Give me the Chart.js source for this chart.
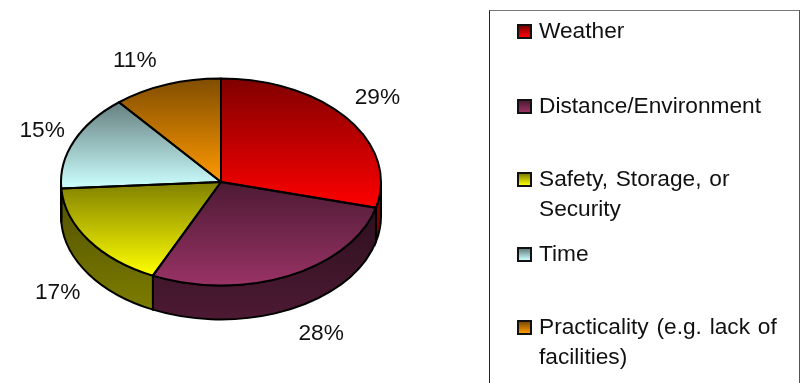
<!DOCTYPE html>
<html>
<head>
<meta charset="utf-8">
<title>Reasons</title>
<script src="https://cdn.jsdelivr.net/npm/chart.js@4"></script>
<style>
    html, body { margin: 0; padding: 0; background: #fff; overflow: hidden; }
    #wrap { position: relative; width: 801px; height: 383px; overflow: hidden; }
    #pie { position: absolute; left: 0; top: 0; }
    #legendBox {
        position: absolute; left: 489px; top: 10px; width: 309px; height: 390px;
        border: 1px solid #222; border-top-color: #777; border-right-color: #555;
        font-family: "Liberation Sans", Arial, sans-serif; font-size: 22.7px;
        line-height: 30px; color: #111; word-spacing: 1.5px;
    }
    .item { position: absolute; left: 49px; width: 250px; }
    .swatch {
        position: absolute; left: -22px; top: 9px; width: 11px; height: 11px;
        border: 2px solid #111;
    }
</style>
</head>
<body>
<div id="wrap">
    <canvas id="pie" width="801" height="383"></canvas>
    <div id="legendBox"></div>
</div>
<script>
const categories = ["Weather", "Distance/Environment", "Safety, Storage, or Security", "Time", "Practicality (e.g. lack of facilities)"];
const shares = [29, 28, 17, 15, 11];

// top face gradients run dark to bright, going down each slice
const darkColors = ["#800000", "#4d1a33", "#808000", "#668080", "#804d00"];
const brightColors = ["#ff0000", "#993366", "#ffff00", "#ccffff", "#ff9900"];
const wallTopColors = ["#800000", "#260d1a", "#4d4d00", "#667f7f", "#804d00"];
const wallBottomColors = ["#800000", "#4d1a33", "#808000", "#667f7f", "#804d00"];

const TILT = 103.5 / 160;
const DEPTH = 34;

// label offsets from the rim point at the middle of each slice
const labelNudge = [[30, -23], [32, 56], [-31, 51], [-32, -12], [-32, -26]];

// y position of each legend row inside the box
const legendRows = [4, 79, 152, 227, 300];

function sliceRange(arc) {
    // vertical extent of the slice on the untilted circle, centre included
    let lo = 0, hi = 0;
    let marks = [arc.startAngle, arc.endAngle];
    for (let k = -1; k < 4; k++) {
        let a = Math.PI / 2 + k * Math.PI;
        if (a > arc.startAngle && a < arc.endAngle) marks.push(a);
    }
    marks.forEach(a => {
        lo = Math.min(lo, Math.sin(a));
        hi = Math.max(hi, Math.sin(a));
    });
    return [arc.y + lo * arc.outerRadius, arc.y + hi * arc.outerRadius];
}

function drawWalls(ctx, arcs) {
    arcs.forEach((arc, i) => {
        let from = Math.max(arc.startAngle, 0);
        let to = Math.min(arc.endAngle, Math.PI);
        if (to <= from) return;
        let rx = arc.outerRadius, ry = rx * TILT;
        let g = ctx.createLinearGradient(0, arc.y, 0, arc.y + ry + DEPTH);
        g.addColorStop(0, wallTopColors[i]);
        g.addColorStop(1, wallBottomColors[i]);
        ctx.beginPath();
        ctx.ellipse(arc.x, arc.y, rx, ry, 0, from, to);
        ctx.ellipse(arc.x, arc.y + DEPTH, rx, ry, 0, to, from, true);
        ctx.closePath();
        ctx.fillStyle = g;
        ctx.fill();
        ctx.lineWidth = 2;
        ctx.strokeStyle = "#000";
        ctx.stroke();
    });
}

const tiltedPie = {
    id: "tiltedPie",
    beforeDatasetsDraw(chart) {
        let ctx = chart.ctx;
        let arcs = chart.getDatasetMeta(0).data;
        drawWalls(ctx, arcs);
        arcs.forEach((arc, i) => {
            let range = sliceRange(arc);
            let g = ctx.createLinearGradient(0, range[0], 0, range[1]);
            g.addColorStop(0, darkColors[i]);
            g.addColorStop(1, brightColors[i]);
            arc.options = Object.assign({}, arc.options, { backgroundColor: g });
        });
        // squash the circle into the tilted top face
        let c = arcs[0];
        ctx.save();
        ctx.translate(c.x, c.y);
        ctx.scale(1, TILT);
        ctx.translate(-c.x, -c.y);
    },
    afterDatasetsDraw(chart) {
        let ctx = chart.ctx;
        ctx.restore();
        let arcs = chart.getDatasetMeta(0).data;
        ctx.lineWidth = 2;
        ctx.strokeStyle = "#000";
        ctx.lineJoin = "round";
        arcs.forEach(arc => {
            ctx.beginPath();
            ctx.moveTo(arc.x, arc.y);
            ctx.ellipse(arc.x, arc.y, arc.outerRadius, arc.outerRadius * TILT, 0, arc.startAngle, arc.endAngle);
            ctx.closePath();
            ctx.stroke();
        });
        ctx.font = '22.7px "Liberation Sans", Arial, sans-serif';
        ctx.fillStyle = "#111";
        ctx.textAlign = "center";
        ctx.textBaseline = "alphabetic";
        arcs.forEach((arc, i) => {
            let mid = (arc.startAngle + arc.endAngle) / 2;
            let x = arc.x + Math.cos(mid) * arc.outerRadius + labelNudge[i][0];
            let y = arc.y + Math.sin(mid) * arc.outerRadius * TILT + labelNudge[i][1];
            ctx.fillText(shares[i] + "%", x, y + 8);
        });
    }
};

new Chart(document.getElementById("pie").getContext("2d"), {
    type: "pie",
    data: {
        labels: categories,
        datasets: [{ data: shares, backgroundColor: brightColors, borderWidth: 0 }]
    },
    options: {
        responsive: false,
        animation: false,
        layout: { padding: { left: 61, right: 420, top: 22, bottom: 41 } },
        plugins: { legend: { display: false }, tooltip: { enabled: false } }
    },
    plugins: [tiltedPie]
});

let box = document.getElementById("legendBox");
categories.forEach((name, i) => {
    let item = document.createElement("div");
    item.className = "item";
    item.style.top = legendRows[i] + "px";
    item.textContent = name;
    let swatch = document.createElement("div");
    swatch.className = "swatch";
    swatch.style.background = "linear-gradient(" + darkColors[i] + ", " + brightColors[i] + ")";
    item.appendChild(swatch);
    box.appendChild(item);
});
</script>
</body>
</html>
